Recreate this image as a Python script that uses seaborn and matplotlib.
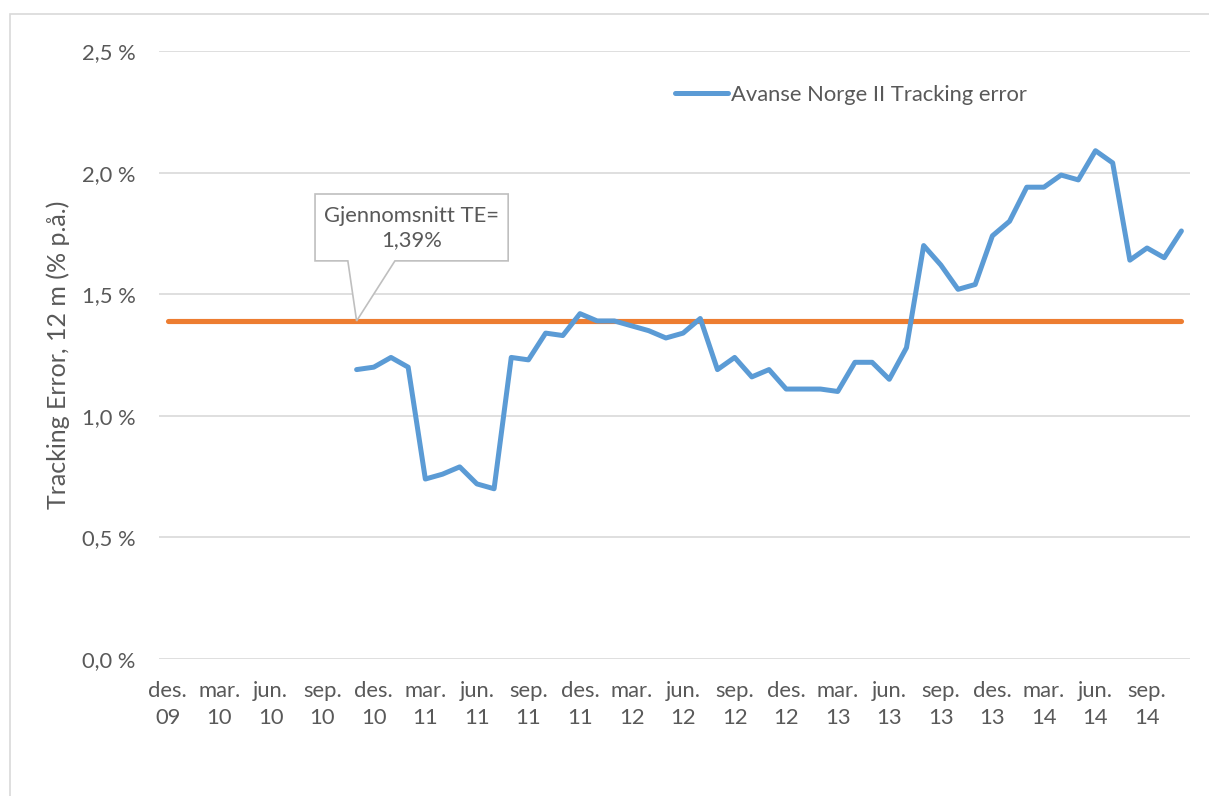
import numpy as np
import pandas as pd
import matplotlib
matplotlib.use("Agg")
import matplotlib.pyplot as plt
from matplotlib.patches import Polygon, Rectangle
import seaborn as sns

# Månedlige kategorier, des. 2009 - nov. 2014
MONTH_NAMES = ["jan", "feb", "mar", "apr", "mai", "jun",
               "jul", "aug", "sep", "okt", "nov", "des"]
START_MONTH = "2009-12-01"
N_MONTHS = 60

# Tracking error (% p.å.), serien starter nov. 2010
TE_START_INDEX = 11
tracking_error = [
    1.19, 1.20, 1.24, 1.20, 0.74, 0.76, 0.79, 0.72, 0.70, 1.24,
    1.23, 1.34, 1.33, 1.42, 1.39, 1.39, 1.37, 1.35, 1.32, 1.34,
    1.40, 1.19, 1.24, 1.16, 1.19, 1.11, 1.11, 1.11, 1.10, 1.22,
    1.22, 1.15, 1.28, 1.70, 1.62, 1.52, 1.54, 1.74, 1.80, 1.94,
    1.94, 1.99, 1.97, 2.09, 2.04, 1.64, 1.69, 1.65, 1.76,
]
mean_te = 1.39

y_ticks = [0.0, 0.5, 1.0, 1.5, 2.0, 2.5]
series_label = "Avanse Norge II Tracking error"
callout_text = "Gjennomsnitt TE=\n1,39%"
y_label = "Tracking Error, 12 m (% p.å.)"

BLUE = "#5B9BD5"
ORANGE = "#ED7D31"
GRID = "#D9D9D9"
TEXT = "#595959"
FS = 15.8


def build_frame():
    dates = pd.date_range(START_MONTH, periods=N_MONTHS, freq="MS")
    te = [np.nan] * TE_START_INDEX + tracking_error
    df = pd.DataFrame({
        "idx": np.arange(N_MONTHS),
        "date": dates,
        "te": te,
        "mean": [mean_te] * N_MONTHS,
    })
    df["label"] = [f"{MONTH_NAMES[d.month - 1]}.\n{d.year % 100:02d}" for d in dates]
    return df


def main():
    df = build_frame()

    sns.set_style("white")
    plt.rcParams["font.family"] = ["Lato", "DejaVu Sans"]

    fig = plt.figure(figsize=(12.09, 7.96), dpi=100)
    ax = fig.add_axes([159 / 1209, 1 - 659 / 796, 1031 / 1209, 608 / 796])

    # ytre ramme rundt diagrammet
    fig.patches.append(Rectangle((10 / 1209, -0.1), 1.2, 1.1 - 14 / 796,
                                 transform=fig.transFigure, fill=False,
                                 edgecolor=GRID, linewidth=1.2, clip_on=False))

    sns.lineplot(data=df, x="idx", y="mean", ax=ax, color=ORANGE, linewidth=3.7,
                 solid_capstyle="round", legend=False, zorder=2)
    sns.lineplot(data=df, x="idx", y="te", ax=ax, color=BLUE, linewidth=3.6,
                 solid_capstyle="round", solid_joinstyle="round",
                 label=series_label, zorder=3)

    ax.set_xlim(-0.5, N_MONTHS - 0.5)
    ax.set_ylim(y_ticks[0], y_ticks[-1])
    ax.set_yticks(y_ticks)
    ax.set_yticklabels([f"{v:.1f} %".replace(".", ",") for v in y_ticks])
    ax.set_xticks(df["idx"][::3])
    ax.set_xticklabels(df["label"][::3])
    ax.tick_params(axis="x", length=0, pad=16, labelsize=FS, colors=TEXT)
    ax.tick_params(axis="y", length=0, pad=17, labelsize=FS, colors=TEXT)
    for lab in ax.get_xticklabels():
        lab.set_linespacing(1.45)

    ax.grid(axis="y", color=GRID, linewidth=1.2)
    ax.set_axisbelow(True)
    for s in ax.spines.values():
        s.set_visible(False)

    ax.set_xlabel("")
    ax.set_ylabel(y_label, fontsize=18, color=TEXT, labelpad=8)

    # kommentarboble for gjennomsnittet
    tip_x = TE_START_INDEX
    box = [(8.58, 1.912), (19.82, 1.912), (19.82, 1.637), (13.23, 1.637),
           (tip_x, mean_te), (10.49, 1.637), (8.58, 1.637)]
    ax.add_patch(Polygon(box, closed=True, facecolor="white", edgecolor="#BFBFBF",
                         linewidth=1.2, zorder=4))
    ax.text(14.2, 1.772, callout_text, ha="center", va="center", fontsize=FS,
            color=TEXT, linespacing=1.3, zorder=5)

    ax.legend(loc="center left", bbox_to_anchor=(0.481, 0.928), frameon=False,
              fontsize=FS, handlelength=2.45, handletextpad=0.1,
              labelcolor=TEXT)

    fig.savefig("out.png", dpi=100)


if __name__ == "__main__":
    main()
